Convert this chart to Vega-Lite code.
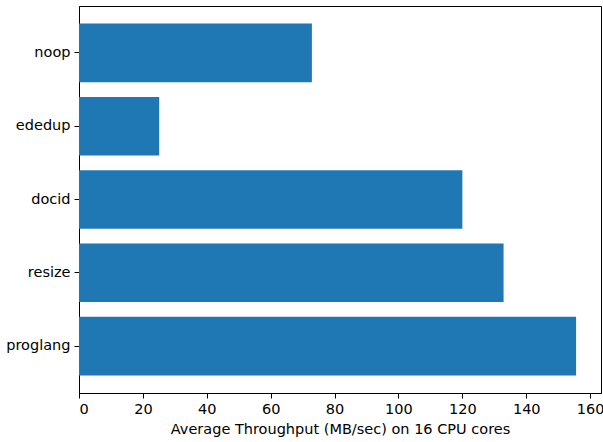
{
  "$schema": "https://vega.github.io/schema/vega-lite/v6.json",
  "width": 522,
  "height": 387,
  "autosize": {"type": "none"},
  "padding": {"left": 79, "top": 6, "right": 2, "bottom": 49},
  "background": "white",
  "config": {
    "view": {"stroke": "black", "strokeWidth": 1},
    "font": "DejaVu Sans",
    "axis": {
      "labelFont": "DejaVu Sans",
      "titleFont": "DejaVu Sans",
      "labelFontSize": 14.5,
      "titleFontSize": 14.5,
      "titleFontWeight": "normal",
      "labelColor": "black",
      "titleColor": "black",
      "tickColor": "black",
      "domainColor": "black",
      "tickSize": 5,
      "grid": false
    }
  },
  "data": {
    "values": [
      {"task": "noop", "throughput": 72.9},
      {"task": "ededup", "throughput": 25.1},
      {"task": "docid", "throughput": 120.0},
      {"task": "resize", "throughput": 132.9},
      {"task": "proglang", "throughput": 155.6}
    ]
  },
  "mark": {"type": "bar", "color": "#1f77b4"},
  "encoding": {
    "y": {
      "field": "task",
      "type": "nominal",
      "sort": null,
      "scale": {"paddingInner": 0.2, "paddingOuter": 0.24},
      "axis": {"title": null, "labelPadding": 4}
    },
    "x": {
      "field": "throughput",
      "type": "quantitative",
      "scale": {"domain": [0, 163.4], "nice": false, "zero": true},
      "axis": {
        "title": "Average Throughput (MB/sec) on 16 CPU cores",
        "values": [0, 20, 40, 60, 80, 100, 120, 140, 160],
        "labelPadding": 4,
        "titlePadding": 7
      }
    }
  }
}
